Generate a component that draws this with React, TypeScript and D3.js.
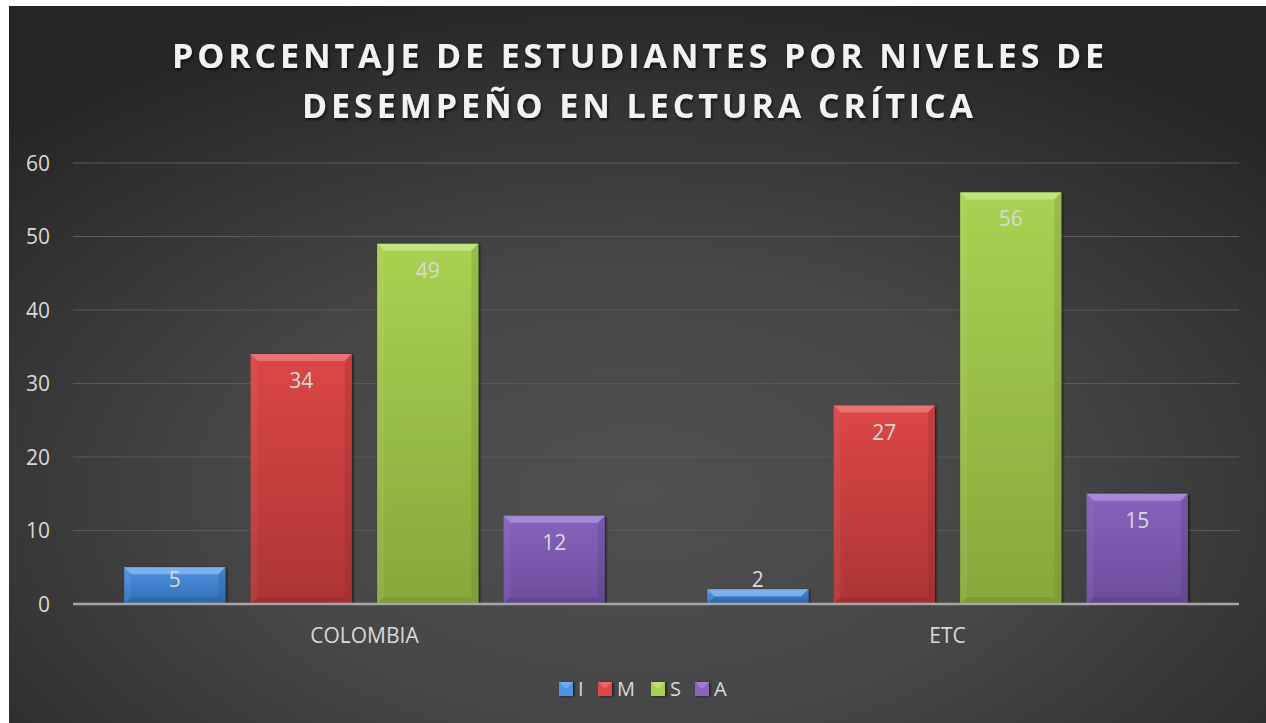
import React from "react";
import * as d3 from "d3";

const categories = ["COLOMBIA", "ETC"];
const seriesNames = ["I", "M", "S", "A"];
const valuesI = [5, 2];
const valuesM = [34, 27];
const valuesS = [49, 56];
const valuesA = [12, 15];
const yTicks = [0, 10, 20, 30, 40, 50, 60];
const titleLines = ["PORCENTAJE DE ESTUDIANTES POR NIVELES DE", "DESEMPEÑO EN LECTURA CRÍTICA"];

const seriesValues = [valuesI, valuesM, valuesS, valuesA];
const colors = [
  { top: "#4d93e3", bot: "#336db5", light: "#8cbcf2", dark: "#25528a" },
  { top: "#dc4646", bot: "#ad3535", light: "#f08080", dark: "#822626" },
  { top: "#a8d252", bot: "#86a83c", light: "#cbe98c", dark: "#62802a" },
  { top: "#8763bd", bot: "#6c4d9c", light: "#b195dd", dark: "#4e3675" },
];

const W = 1266;
const H = 723;
const CX = 9;
const CY = 6;
const plotL = 73;
const plotR = 1239;
const y0 = 604;
const yTop = 163;
const labelFont = "'Open Sans', sans-serif";
const textColor = "#d9d9d9";

export default function App() {
  const y = d3.scaleLinear().domain([0, 60]).range([y0, yTop]);
  const x0 = d3.scaleBand<string>().domain(categories).range([plotL, plotR]).paddingInner(0).paddingOuter(0);
  const x1 = d3
    .scaleBand<string>()
    .domain(seriesNames)
    .range([0, x0.bandwidth()])
    .paddingInner(0.2)
    .paddingOuter(0.405);
  const bw = x1.bandwidth();

  const bars: any[] = [];
  categories.forEach((c, ci) => {
    seriesNames.forEach((s, si) => {
      const v = seriesValues[si][ci];
      const x = (x0(c) as number) + (x1(s) as number);
      const top = y(v);
      bars.push({ key: c + s, x, top, h: y0 - top, si, v });
    });
  });

  const legendItems = [
    { sq: 559, tx: 578 },
    { sq: 598, tx: 617 },
    { sq: 651, tx: 670 },
    { sq: 695, tx: 714 },
  ];

  return (
    <svg width={W} height={H} style={{ position: "absolute", left: 0, top: 0 }}>
      <defs>
        <radialGradient id="bg" cx="50%" cy="68%" r="72%" fx="50%" fy="68%">
          <stop offset="0%" stopColor="#505050" />
          <stop offset="45%" stopColor="#464646" />
          <stop offset="100%" stopColor="#252525" />
        </radialGradient>
        {colors.map((c, i) => (
          <linearGradient key={i} id={"bar" + i} x1="0" y1="0" x2="0" y2="1">
            <stop offset="0%" stopColor={c.top} />
            <stop offset="100%" stopColor={c.bot} />
          </linearGradient>
        ))}
        <filter id="shadow" x="-10%" y="-10%" width="130%" height="130%">
          <feDropShadow dx="1.5" dy="0.5" stdDeviation="1.2" floodColor="#000" floodOpacity="0.6" />
        </filter>
        <filter id="tshadow" x="-5%" y="-20%" width="110%" height="150%">
          <feDropShadow dx="1" dy="2" stdDeviation="1.5" floodColor="#000" floodOpacity="0.7" />
        </filter>
      </defs>
      <rect x={0} y={0} width={W} height={H} fill="#ffffff" />
      <rect x={CX} y={CY} width={W - CX} height={H - CY} fill="url(#bg)" />

      {/* title */}
      <g filter="url(#tshadow)" fill="#f2f2f2" fontFamily={labelFont} fontWeight={700} fontSize={34}>
        <text x={638} y={68} textAnchor="middle" textLength={932} lengthAdjust="spacing">
          {titleLines[0]}
        </text>
        <text x={637.5} y={118} textAnchor="middle" textLength={671} lengthAdjust="spacing">
          {titleLines[1]}
        </text>
      </g>

      {/* gridlines */}
      {yTicks.filter((t) => t !== 0).map((t) => (
        <line key={t} x1={plotL} x2={plotR} y1={y(t)} y2={y(t)} stroke="#5a5a5a" strokeWidth={1} />
      ))}
      {/* y labels */}
      {yTicks.map((t) => (
        <text
          key={"yl" + t}
          x={50}
          y={y(t)}
          dy="0.36em"
          textAnchor="end"
          fill={textColor}
          fontFamily={labelFont}
          fontSize={21}
        >
          {t}
        </text>
      ))}

      {/* bars */}
      {bars.map((b) => {
        const c = colors[b.si];
        const bv = Math.min(7, b.h / 2);
        const xr = b.x + bw;
        const yb = y0;
        return (
          <g key={b.key}>
            <rect x={b.x} y={b.top} width={bw} height={b.h} fill={"url(#bar" + b.si + ")"} filter="url(#shadow)" />
            <polygon
              points={`${b.x},${b.top} ${xr},${b.top} ${xr - bv},${b.top + bv} ${b.x + bv},${b.top + bv}`}
              fill={c.light}
              opacity={0.75}
            />
            <polygon
              points={`${b.x},${b.top} ${b.x + bv},${b.top + bv} ${b.x + bv},${yb - bv} ${b.x},${yb}`}
              fill={c.light}
              opacity={0.12}
            />
            <polygon
              points={`${xr},${b.top} ${xr - bv},${b.top + bv} ${xr - bv},${yb - bv} ${xr},${yb}`}
              fill={c.dark}
              opacity={0.25}
            />
            <polygon
              points={`${b.x},${yb} ${b.x + bv},${yb - bv} ${xr - bv},${yb - bv} ${xr},${yb}`}
              fill={c.dark}
              opacity={0.3}
            />
          </g>
        );
      })}

      {/* axis line */}
      <line x1={plotL} x2={plotR} y1={y0} y2={y0} stroke="#a6a6a6" strokeWidth={2.5} />

      {/* data labels */}
      {bars.map((b) => {
        const cyL = Math.min(b.top + 26.5, y0 - 25);
        return (
          <text
            key={"dl" + b.key}
            x={b.x + bw / 2}
            y={cyL}
            dy="0.36em"
            textAnchor="middle"
            fill={textColor}
            fontFamily={labelFont}
            fontSize={21}
          >
            {b.v}
          </text>
        );
      })}

      {/* category labels */}
      {categories.map((c) => (
        <text
          key={"cl" + c}
          x={(x0(c) as number) + x0.bandwidth() / 2}
          y={643}
          textAnchor="middle"
          fill={textColor}
          fontFamily={labelFont}
          fontSize={21}
        >
          {c}
        </text>
      ))}

      {/* legend */}
      {seriesNames.map((s, i) => {
        const c = colors[i];
        const lx = legendItems[i].sq;
        const ly = 682;
        const sz = 14;
        return (
          <g key={"lg" + s}>
            <rect x={lx} y={ly} width={sz} height={sz} fill={c.top} filter="url(#shadow)" />
            <polygon points={`${lx},${ly} ${lx + sz},${ly} ${lx + sz / 2},${ly + sz / 2}`} fill={c.light} opacity={0.6} />
            <text x={legendItems[i].tx} y={696} fill={textColor} fontFamily={labelFont} fontSize={20}>
              {s}
            </text>
          </g>
        );
      })}
    </svg>
  );
}
